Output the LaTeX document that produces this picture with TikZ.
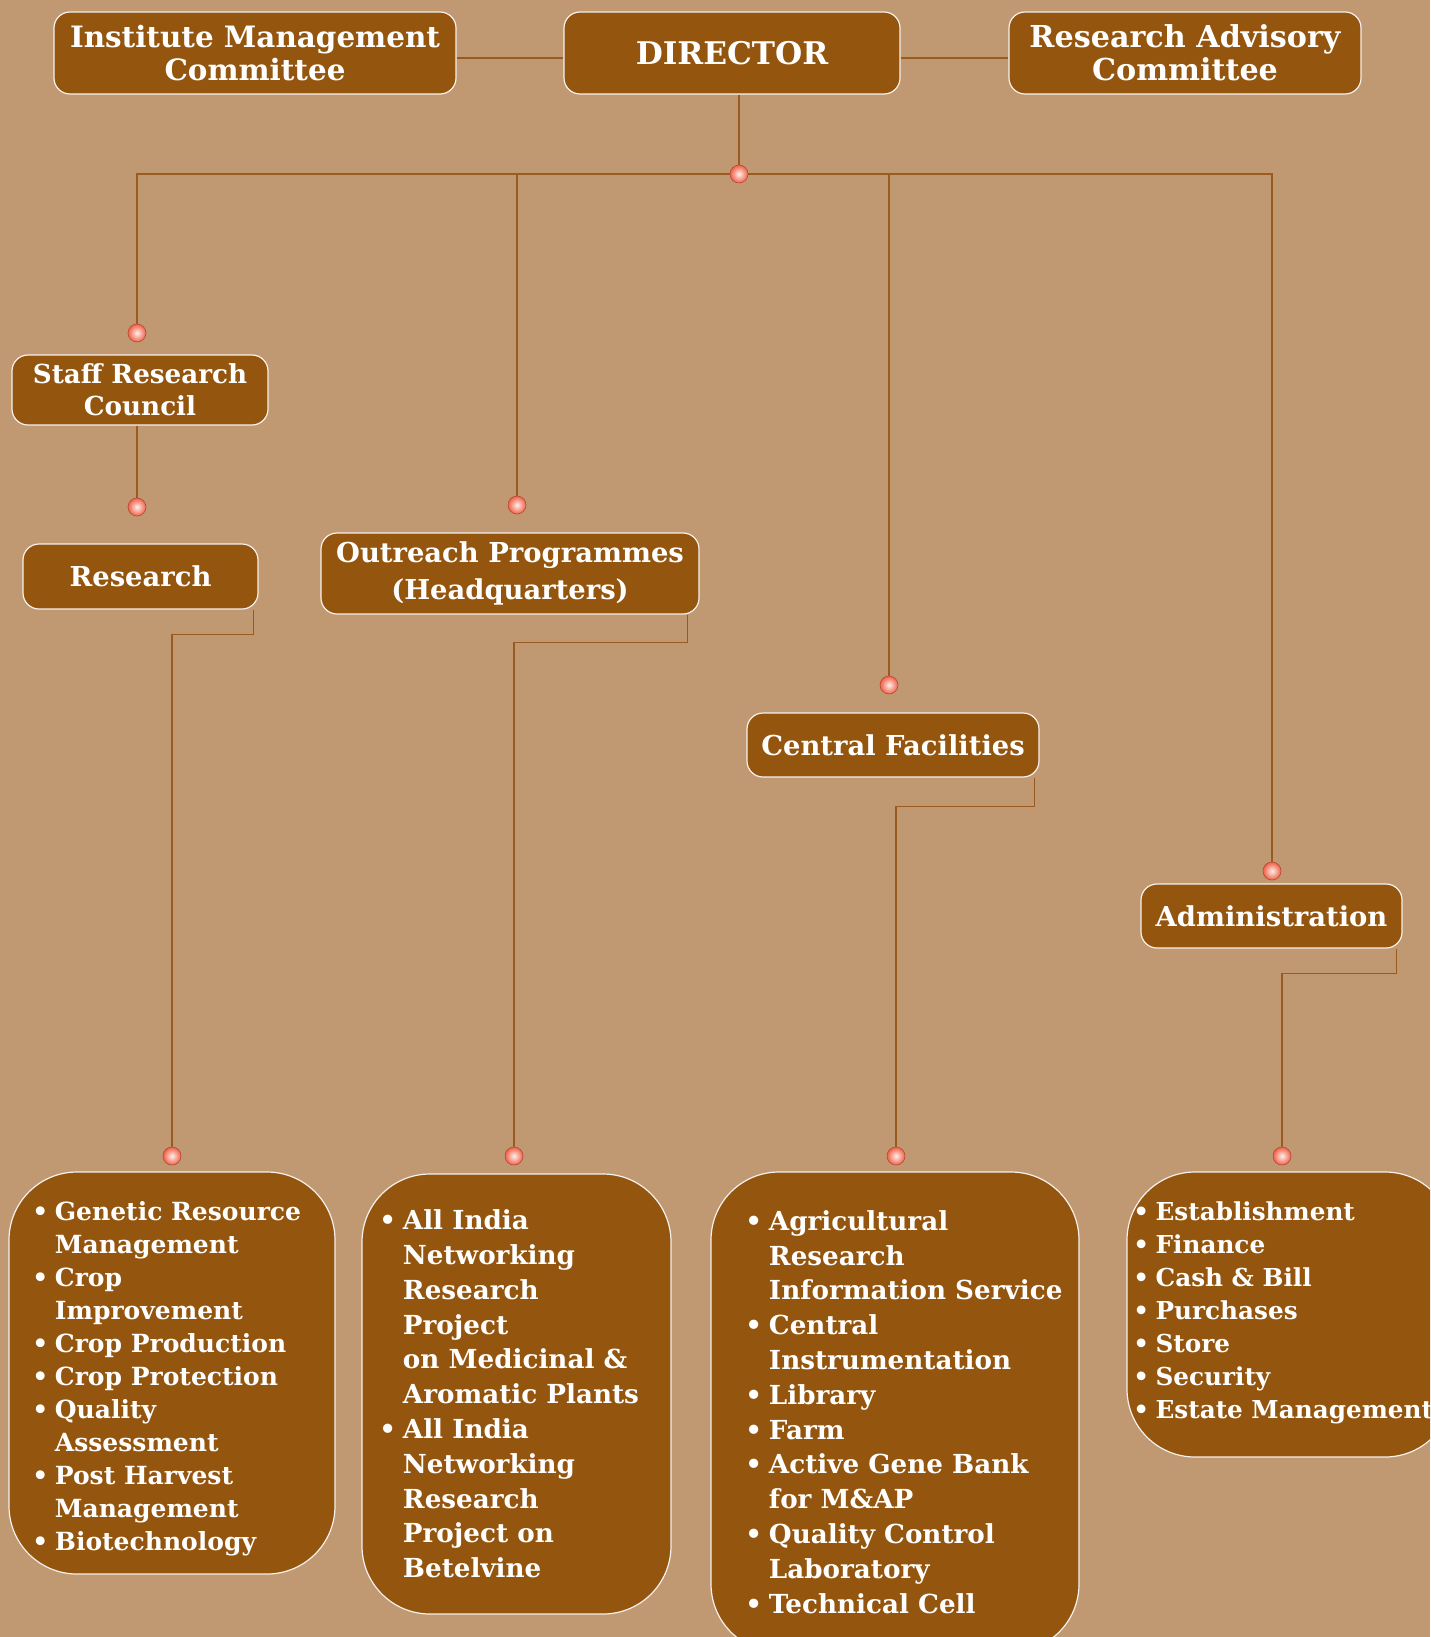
\documentclass[tikz,border=0pt]{standalone}
\usepackage{fontspec}
\setmainfont{DejaVu Serif}
\definecolor{bgtan}{RGB}{192,152,114}
\definecolor{boxbrown}{RGB}{148,85,14}
\definecolor{linebrown}{RGB}{155,90,30}
\definecolor{dotred}{RGB}{240,96,70}
\newcommand{\bul}{\makebox[0.9em][l]{•}}
\newcommand{\hang}{\hspace*{0.9em}}

\begin{document}
\begin{tikzpicture}[x=0.5pt, y=-0.5pt,
    unit/.style={draw=white!92!boxbrown, fill=boxbrown, text=white, rounded corners=8pt,
        line width=0.6pt, font=\bfseries\fontsize{13.7}{18.2}\selectfont, align=center, inner sep=0pt},
    toprow/.style={unit, font=\bfseries\fontsize{15.1}{16.7}\selectfont},
    listbox/.style={unit, rounded corners=34pt},
    listtext/.style={text=white, align=left, inner sep=0pt, anchor=west},
    smalllist/.style={font=\bfseries\fontsize{12.5}{16.5}\selectfont},
    biglist/.style={font=\bfseries\fontsize{13.1}{17.4}\selectfont},
    joint/.style={circle, inner sep=0pt, minimum size=9pt, draw=dotred!75!black, line width=0.3pt,
        inner color=white!90!dotred, outer color=dotred},
    link/.style={draw=linebrown, line width=0.7pt}]
    \useasboundingbox (0,0) rectangle (1430,1637);
    \clip (0,0) rectangle (1430,1637);
    \fill[bgtan] (0,0) rectangle (1430,1637);

    % Top row
    \node[toprow, font=\bfseries\fontsize{14.7}{16.7}\selectfont, minimum width=201pt, minimum height=41pt] (imc) at (255,53) {Institute Management\\Committee};
    \node[toprow, font=\bfseries\fontsize{15.6}{16.7}\selectfont, minimum width=168pt, minimum height=41pt] (director) at (732,53) {DIRECTOR};
    \node[toprow, minimum width=176pt, minimum height=41pt] (rac) at (1185,53) {Research Advisory\\Committee};

    % Second level
    \node[unit, font=\bfseries\fontsize{13.1}{16}\selectfont, minimum width=128pt, minimum height=35pt] (src) at (140,390) {Staff Research\\Council};
    \node[unit, minimum width=117.5pt, minimum height=32.5pt] (research) at (140.5,576.5) {Research};
    \node[unit, font=\bfseries\fontsize{13.7}{17.6}\selectfont, minimum width=189pt, minimum height=40.5pt] (outreach) at (510,573.5) {Outreach Programmes\\[1pt](Headquarters)};
    \node[unit, minimum width=146pt, minimum height=32pt] (central) at (893,745) {Central Facilities};
    \node[unit, minimum width=130.5pt, minimum height=32pt] (admin) at (1271.5,916) {Administration};

    % Lists
    \node[listbox, minimum width=163pt, minimum height=201pt] (researchlist) at (172,1373) {};
    \node[listtext, smalllist] (researchtext) at (32,1379)
        {\bul Genetic Resource\\\hang Management\\\bul Crop\\\hang Improvement\\\bul Crop Production\\\bul Crop Protection\\\bul Quality\\\hang Assessment\\\bul Post Harvest\\\hang Management\\\bul Biotechnology};
    \node[listbox, minimum width=154.5pt, minimum height=220pt] (outreachlist) at (516.5,1394) {};
    \node[listtext, biglist] (outreachtext) at (379,1394)
        {\bul All India\\\hang Networking\\\hang Research\\\hang Project\\\hang on Medicinal \&\\\hang Aromatic Plants\\\bul All India\\\hang Networking\\\hang Research\\\hang Project on\\\hang Betelvine};
    \node[listbox, minimum width=184pt, minimum height=240pt] (centrallist) at (895,1412) {};
    \node[listtext, biglist] (centraltext) at (745,1412)
        {\bul Agricultural\\\hang Research\\\hang Information Service\\\bul Central\\\hang Instrumentation\\\bul Library\\\bul Farm\\\bul Active Gene Bank\\\hang for M\&AP\\\bul Quality Control\\\hang Laboratory\\\bul Technical Cell};
    \node[listbox, minimum width=163pt, minimum height=142.5pt] (adminlist) at (1290,1314.5) {};
    \node[listtext, font=\bfseries\fontsize{12.35}{16.5}\selectfont] (admintext) at (1133,1313)
        {\bul Establishment\\\bul Finance\\\bul Cash \& Bill\\\bul Purchases\\\bul Store\\\bul Security\\\bul Estate Management};

    % Joints
    \node[joint] (dhub) at (739,174) {};
    \node[joint] (dsrc) at (137,333) {};
    \node[joint] (dout) at (517,505) {};
    \node[joint] (dcf) at (889,685) {};
    \node[joint] (dadm) at (1272,871) {};
    \node[joint] (dres) at (137,507) {};
    \node[joint] (l1) at (172,1156) {};
    \node[joint] (l2) at (514,1156) {};
    \node[joint] (l3) at (896,1156) {};
    \node[joint] (l4) at (1282,1156) {};

    % Links
    \draw[link] ([yshift=-2.5pt]imc.east) -- ([yshift=-2.5pt]director.west);
    \draw[link] ([yshift=-2.5pt]director.east) -- ([yshift=-2.5pt]rac.west);
    \draw[link] (director.south -| dhub) -- (dhub);
    \draw[link] (dsrc) |- (dhub) -| (dadm);
    \draw[link] (dout) -- (dout |- dhub);
    \draw[link] (dcf) -- (dcf |- dhub);
    \draw[link] (src.south -| dres) -- (dres);
    \draw[link] ([xshift=-2.5pt]research.south east) -- ++(0,25) -| (l1);
    \draw[link] ([xshift=-6pt]outreach.south east) -- ++(0,28) -| (l2);
    \draw[link] ([xshift=-2.7pt]central.south east) -- ++(0,29) -| (l3);
    \draw[link] ([xshift=-3pt]admin.south east) -- ++(0,25) -| (l4);
\end{tikzpicture}
\end{document}
